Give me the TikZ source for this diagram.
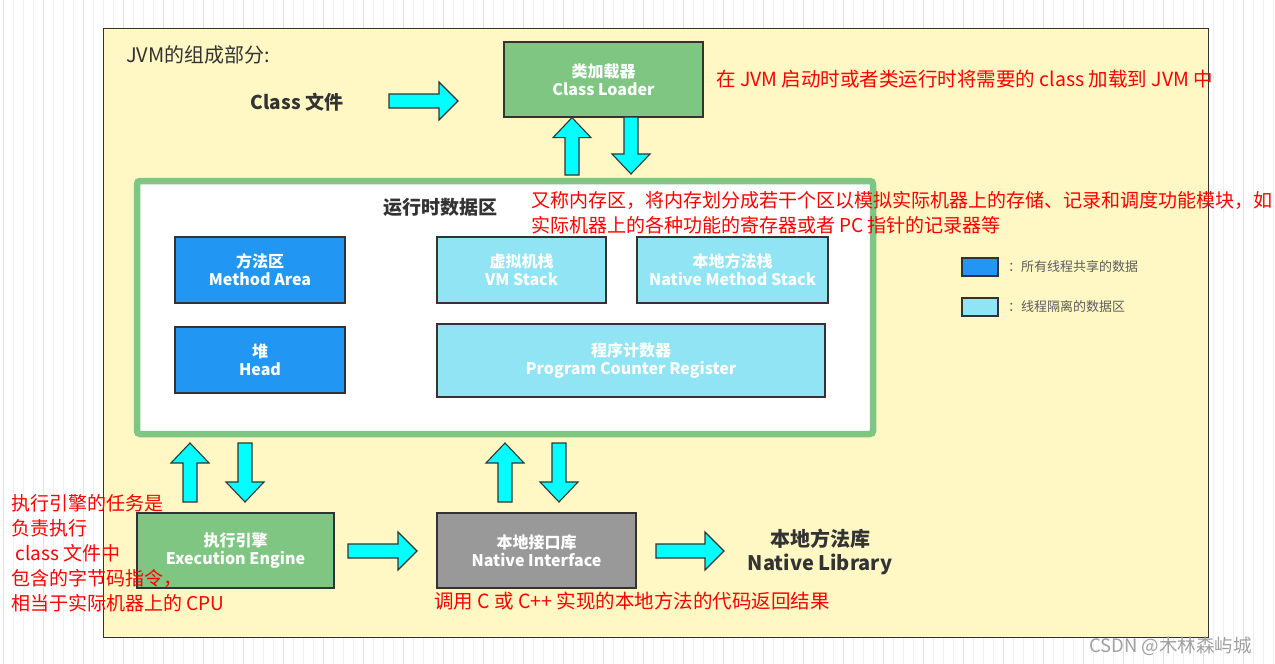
\documentclass[tikz,border=0pt]{standalone}
\usepackage{fontspec}
\setmainfont{Noto Sans CJK SC}
\usetikzlibrary{calc}
\definecolor{yel}{HTML}{FFF8C4}
\definecolor{grn}{HTML}{7FC683}
\definecolor{blu}{HTML}{2196F3}
\definecolor{lcy}{HTML}{90E4F4}
\definecolor{gry}{HTML}{999999}
\definecolor{dark}{HTML}{333333}
\definecolor{redt}{HTML}{FF0000}
\definecolor{aqua}{HTML}{00FFFF}
\definecolor{gminor}{HTML}{F0F0F0}
\definecolor{gmajor}{HTML}{E2E2E2}
\definecolor{wmark}{HTML}{A0A0A0}
\tikzset{
  box/.style={draw=dark, line width=1.2pt, text=white, align=center, inner sep=0pt,
    font=\bfseries\fontsize{16}{18}\selectfont},
  blockarrow/.style={draw=dark, fill=aqua, line width=1.1pt, line join=miter},
  redtxt/.style={text=redt, inner sep=0pt, anchor=west, font=\fontsize{19}{24}\selectfont},
  darktxt/.style={text=dark, inner sep=0pt, font=\bfseries\fontsize{19}{24}\selectfont},
  legtxt/.style={text=dark!80, inner sep=0pt, anchor=west, font=\fontsize{13}{16}\selectfont},
}
\newcommand\rarr[2]{\path[blockarrow] let \p1=(#1), \p2=(#2) in
  (\x1,\y1+7pt) -- (\x2-19pt,\y1+7pt) -- (\x2-19pt,\y1+19pt) -- (\x2,\y1) --
  (\x2-19pt,\y1-19pt) -- (\x2-19pt,\y1-7pt) -- (\x1,\y1-7pt) -- cycle;}
\newcommand\uarr[2]{\path[blockarrow] let \p1=(#1), \p2=(#2) in
  (\x1-7pt,\y1) -- (\x1-7pt,\y2-20pt) -- (\x1-19pt,\y2-20pt) -- (\x1,\y2) --
  (\x1+19pt,\y2-20pt) -- (\x1+7pt,\y2-20pt) -- (\x1+7pt,\y1) -- cycle;}
\newcommand\darr[2]{\path[blockarrow] let \p1=(#1), \p2=(#2) in
  (\x1-7pt,\y1) -- (\x1-7pt,\y2+20pt) -- (\x1-19pt,\y2+20pt) -- (\x1,\y2) --
  (\x1+19pt,\y2+20pt) -- (\x1+7pt,\y2+20pt) -- (\x1+7pt,\y1) -- cycle;}
\begin{document}
\begin{tikzpicture}[x=1pt,y=-1pt]
\useasboundingbox (0,0) rectangle (1275,664);
\fill[white] (0,0) rectangle (1275,664);
\begin{scope}[xshift=3pt,yshift=-3pt]
\draw[gminor, line width=0.8pt] (-3,-3) grid[step=10] (1272,661);
\draw[gmajor, line width=0.8pt] (-3,-3) grid[step=40] (1272,661);
\end{scope}
% main frame
\node[draw=dark, fill=yel, line width=1.3pt, minimum width=1105, minimum height=609, anchor=north west, inner sep=0pt] (jvm) at (103,28) {};
\node[text=dark, inner sep=0pt, anchor=west, font=\fontsize{20}{24}\selectfont] (title) at (126,55) {JVM的组成部分:};
\node[darktxt] (cf) at (297,102) {Class 文件};
% class loader
\node[box, fill=grn, minimum width=199, minimum height=75] (cl) at (603.5,79.5) {类加载器\\Class Loader};
\node[redtxt, font=\fontsize{19.5}{24}\selectfont] (clnote) at (716,79) {在 JVM 启动时或者类运行时将需要的 class 加载到 JVM 中};
% runtime data area
\node[draw=grn, fill=white, line width=6.5pt, rounded corners=3pt, minimum width=736, minimum height=253, inner sep=0pt] (rda) at (505,307.5) {};
\node[darktxt] (rdatitle) at (440,207) {运行时数据区};
\node[box, fill=blu, minimum width=170, minimum height=66] (ma) at (260,270) {方法区\\Method Area};
\node[box, fill=lcy, minimum width=169, minimum height=66] (vms) at (521.5,270) {虚拟机栈\\VM Stack};
\node[box, fill=lcy, minimum width=191, minimum height=66] (nms) at (732.5,270) {本地方法栈\\Native Method Stack};
\node[box, fill=blu, minimum width=170, minimum height=66] (heap) at (260,360) {堆\\Head};
\node[box, fill=lcy, minimum width=388, minimum height=73] (pcr) at (631,360.5) {程序计数器\\Program Counter Register};
\node[redtxt, align=left] (rdanote) at (531,212.5) {又称内存区，将内存划分成若干个区以模拟实际机器上的存储、记录和调度功能模块，如\\[1pt]实际机器上的各种功能的寄存器或者 PC 指针的记录器等};
% legend
\node[draw=dark, fill=blu, line width=1.2pt, minimum width=36, minimum height=18, inner sep=0pt] (leg1) at (980,267) {};
\node[legtxt] (leg1t) at (1008,267) {：所有线程共享的数据};
\node[draw=dark, fill=lcy, line width=1.2pt, minimum width=36, minimum height=18, inner sep=0pt] (leg2) at (980,307) {};
\node[legtxt] (leg2t) at (1008,307) {：线程隔离的数据区};
% bottom row
\node[box, fill=grn, minimum width=197, minimum height=75] (ee) at (235.5,550.5) {执行引擎\\Execution Engine};
\node[box, fill=gry, minimum width=199, minimum height=75] (ni) at (536.5,550.5) {本地接口库\\Native Interface};
\node[darktxt, align=center, font=\bfseries\fontsize{20}{24}\selectfont] (nl) at (820,552) {本地方法库\\Native Library};
\node[redtxt, align=left, font=\fontsize{19}{25}\selectfont, anchor=north west] (eenote) at (11,494) {执行引擎的任务是\\负责执行\\\ class 文件中\\包含的字节码指令，\\相当于实际机器上的 CPU};
\node[redtxt, font=\fontsize{19.5}{24}\selectfont] (ninote) at (434,601) {调用 C 或 C++ 实现的本地方法的代码返回结果};
\node[text=wmark, inner sep=0pt, anchor=west, font=\fontsize{18.5}{22}\selectfont] (wm) at (1089,646) {CSDN @木林森屿城};
% arrows
\coordinate (a1s) at (389,101);
\coordinate (a1e) at (458,101);
\rarr{a1s}{a1e}
\coordinate (u1b) at (572,175);
\uarr{u1b}{u1b |- cl.south}
\coordinate (d1t) at (631,117);
\coordinate (d1b) at (631,174);
\darr{d1t}{d1b}
\coordinate (u2b) at (190,502);
\coordinate (u2t) at (190,443);
\uarr{u2b}{u2t}
\coordinate (d2t) at (245,443);
\coordinate (d2b) at (245,502);
\darr{d2t}{d2b}
\coordinate (u3b) at (505,502);
\coordinate (u3t) at (505,443);
\uarr{u3b}{u3t}
\coordinate (d3t) at (559,443);
\coordinate (d3b) at (559,502);
\darr{d3t}{d3b}
\coordinate (r2s) at (348,551);
\coordinate (r2e) at (417,551);
\rarr{r2s}{r2e}
\coordinate (r3s) at (656,551);
\coordinate (r3e) at (724,551);
\rarr{r3s}{r3e}
\end{tikzpicture}
\end{document}
